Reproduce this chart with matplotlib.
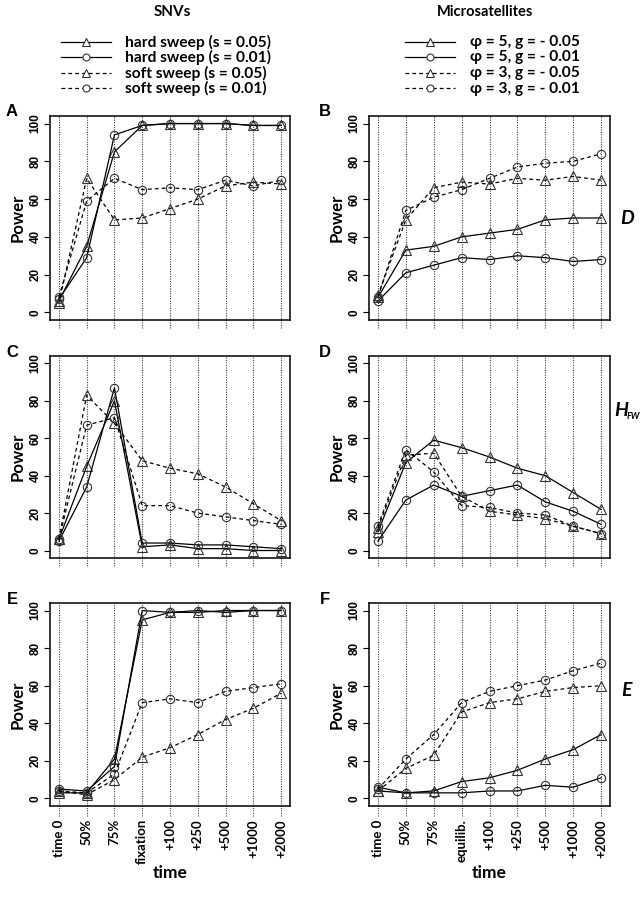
import matplotlib
matplotlib.use("Agg")
import matplotlib.pyplot as plt
from matplotlib.lines import Line2D

# ---------------- data ----------------
x_labels_snv = ["time 0", "50%", "75%", "fixation", "+100", "+250", "+500", "+1000", "+2000"]
x_labels_ms = ["time 0", "50%", "75%", "equilib.", "+100", "+250", "+500", "+1000", "+2000"]

snv_names = ["hard sweep (s = 0.05)", "hard sweep (s = 0.01)",
             "soft sweep (s = 0.05)", "soft sweep (s = 0.01)"]
ms_names = ["\u03c6 = 5, g = - 0.05", "\u03c6 = 5, g = - 0.01",
            "\u03c6 = 3, g = - 0.05", "\u03c6 = 3, g = - 0.01"]

# Panel A (SNVs, D)
A_hard05 = [6, 35, 85, 99, 100, 100, 100, 99, 99]
A_hard01 = [7, 29, 94, 99, 100, 100, 100, 99, 99]
A_soft05 = [5, 71, 49, 50, 55, 60, 67, 69, 68]
A_soft01 = [8, 59, 71, 65, 66, 65, 70, 67, 70]
# Panel B (Microsatellites, D)
B_p5g05 = [8, 33, 35, 40, 42, 44, 49, 50, 50]
B_p5g01 = [6, 21, 25, 29, 28, 30, 29, 27, 28]
B_p3g05 = [9, 49, 66, 69, 68, 71, 70, 72, 70]
B_p3g01 = [8, 54, 61, 65, 71, 77, 79, 80, 84]
# Panel C (SNVs, H_FW)
C_hard05 = [6, 45, 80, 2, 3, 1, 1, 0, 0]
C_hard01 = [5, 34, 87, 4, 4, 3, 3, 2, 1]
C_soft05 = [6, 83, 68, 48, 44, 41, 34, 25, 16]
C_soft01 = [6, 67, 71, 24, 24, 20, 18, 16, 14]
# Panel D (Microsatellites, H_FW)
D_p5g05 = [10, 47, 59, 55, 50, 44, 40, 31, 22]
D_p5g01 = [5, 27, 35, 29, 32, 35, 26, 21, 14]
D_p3g05 = [12, 51, 52, 29, 21, 19, 17, 13, 9]
D_p3g01 = [13, 54, 42, 24, 23, 20, 19, 13, 9]
# Panel E (SNVs, E)
E_hard05 = [3, 3, 21, 95, 99, 99, 100, 100, 100]
E_hard01 = [5, 4, 17, 100, 99, 100, 99, 100, 100]
E_soft05 = [4, 2, 10, 22, 27, 34, 42, 48, 56]
E_soft01 = [4, 3, 13, 51, 53, 51, 57, 59, 61]
# Panel F (Microsatellites, E)
F_p5g05 = [4, 3, 4, 9, 11, 15, 21, 26, 34]
F_p5g01 = [6, 3, 3, 3, 4, 4, 7, 6, 11]
F_p3g05 = [4, 16, 23, 46, 51, 53, 57, 59, 60]
F_p3g01 = [5, 21, 34, 51, 57, 60, 63, 68, 72]

y_ticks = [0, 20, 40, 60, 80, 100]

# ---------------- styling ----------------
W, H = 642, 897
fig = plt.figure(figsize=(W / 100, H / 100), dpi=100)

TXT = ["Lato", "DejaVu Sans"]
NUM = ["Liberation Sans", "DejaVu Sans"]

styles = [
    dict(ls="-", marker="^", ms=7),
    dict(ls="-", marker="o", ms=6),
    dict(ls=(0, (3, 2.5)), marker="^", ms=7),
    dict(ls=(0, (3, 2.5)), marker="o", ms=6),
]


def px_axes(l, t, r, b):
    return fig.add_axes([l / W, 1 - b / H, (r - l) / W, (b - t) / H])


def draw_panel(ax, series, bottom_labels=None, ext=0.04):
    xs = list(range(1, 10))
    for xv in xs:
        ax.add_line(Line2D([xv, xv], [-ext, 1], transform=ax.get_xaxis_transform(),
                           color="0.25", lw=0.8, ls=(0, (1, 1.2)), clip_on=False, zorder=1))
    for vals, st in zip(series, styles):
        ax.plot(xs, vals, color="black", lw=0.9, ls=st["ls"], marker=st["marker"],
                ms=st["ms"], mfc="none", mec="#333333", mew=0.8, zorder=3, clip_on=False)
    ax.set_xlim(0.68, 9.32)
    ax.set_ylim(-4, 104)
    ax.set_yticks(y_ticks)
    ax.set_yticklabels([str(v) for v in y_ticks], rotation=90, va="center",
                       fontfamily=NUM, fontweight="bold", fontsize=8.5)
    ax.tick_params(axis="y", direction="out", length=4, width=0.8, pad=2)
    ax.set_xticks([])
    for s in ax.spines.values():
        s.set_linewidth(1.1)
    ax.set_ylabel("Power", fontfamily=TXT, fontweight="bold", fontsize=12, labelpad=3)
    if bottom_labels is not None:
        for xv, lab in zip(xs, bottom_labels):
            ax.text(xv, -0.065, lab, transform=ax.get_xaxis_transform(), rotation=90,
                    ha="center", va="top", fontfamily=TXT, fontweight="bold", fontsize=9.5)
        ax.text(0.5, -0.33, "time", transform=ax.transAxes, ha="center", va="center",
                fontfamily=TXT, fontweight="bold", fontsize=12.5)


rows = [(116, 320), (356, 558), (603, 806)]
cols = [(50, 290), (369, 610)]

axA = px_axes(cols[0][0], rows[0][0], cols[0][1], rows[0][1])
axB = px_axes(cols[1][0], rows[0][0], cols[1][1], rows[0][1])
axC = px_axes(cols[0][0], rows[1][0], cols[0][1], rows[1][1])
axD = px_axes(cols[1][0], rows[1][0], cols[1][1], rows[1][1])
axE = px_axes(cols[0][0], rows[2][0], cols[0][1], rows[2][1])
axF = px_axes(cols[1][0], rows[2][0], cols[1][1], rows[2][1])

draw_panel(axA, [A_hard05, A_hard01, A_soft05, A_soft01])
draw_panel(axB, [B_p5g05, B_p5g01, B_p3g05, B_p3g01])
draw_panel(axC, [C_hard05, C_hard01, C_soft05, C_soft01])
draw_panel(axD, [D_p5g05, D_p5g01, D_p3g05, D_p3g01])
draw_panel(axE, [E_hard05, E_hard01, E_soft05, E_soft01], x_labels_snv, ext=0.05)
draw_panel(axF, [F_p5g05, F_p5g01, F_p3g05, F_p3g01], x_labels_ms, ext=0.05)

# panel letters
letters = ["A", "B", "C", "D", "E", "F"]
letter_pos = [(12, 112), (325, 112), (12, 352), (325, 352), (12, 599), (325, 599)]
for let, (lx, ly) in zip(letters, letter_pos):
    fig.text(lx / W, 1 - ly / H, let, fontfamily=NUM, fontweight="bold", fontsize=12,
             ha="center", va="center")

# right side statistic labels
fig.text(627 / W, 1 - 218 / H, "D", fontfamily=TXT, fontweight="bold", style="italic",
         fontsize=14, ha="center", va="center")
fig.text(621 / W, 1 - 410 / H, "H", fontfamily=TXT, fontweight="bold", style="italic",
         fontsize=14, ha="center", va="center")
fig.text(627 / W, 1 - 416 / H, "FW", fontfamily=TXT, fontweight="bold", style="italic",
         fontsize=6.5, ha="left", va="center")
fig.text(627 / W, 1 - 690 / H, "E", fontfamily=TXT, fontweight="bold", style="italic",
         fontsize=14, ha="center", va="center")

# column titles
fig.text(172 / W, 1 - 12 / H, "SNVs", fontfamily=TXT, fontweight="bold", fontsize=11,
         ha="center", va="center")
fig.text(485 / W, 1 - 12 / H, "Microsatellites", fontfamily=TXT, fontweight="bold",
         fontsize=10.5, ha="center", va="center")

# legends
row_y = [42, 57.5, 73, 88.5]


def draw_legend(x0, x1, xt, names):
    for yy, name, st in zip(row_y, names, styles):
        yf = 1 - yy / H
        fig.add_artist(Line2D([x0 / W, x1 / W], [yf, yf], transform=fig.transFigure,
                              color="black", lw=0.9, ls=st["ls"]))
        fig.add_artist(Line2D([(x0 + x1) / 2 / W], [yf], transform=fig.transFigure,
                              marker=st["marker"], ms=st["ms"] - 1, mfc="white",
                              mec="#333333", mew=0.8, ls="none"))
        fig.text(xt / W, yf, name, fontfamily=TXT, fontweight="bold", fontsize=11.2,
                 ha="left", va="center")


draw_legend(61, 111, 125, snv_names)
draw_legend(405, 455, 470, ms_names)

fig.savefig("out.png", dpi=100)
